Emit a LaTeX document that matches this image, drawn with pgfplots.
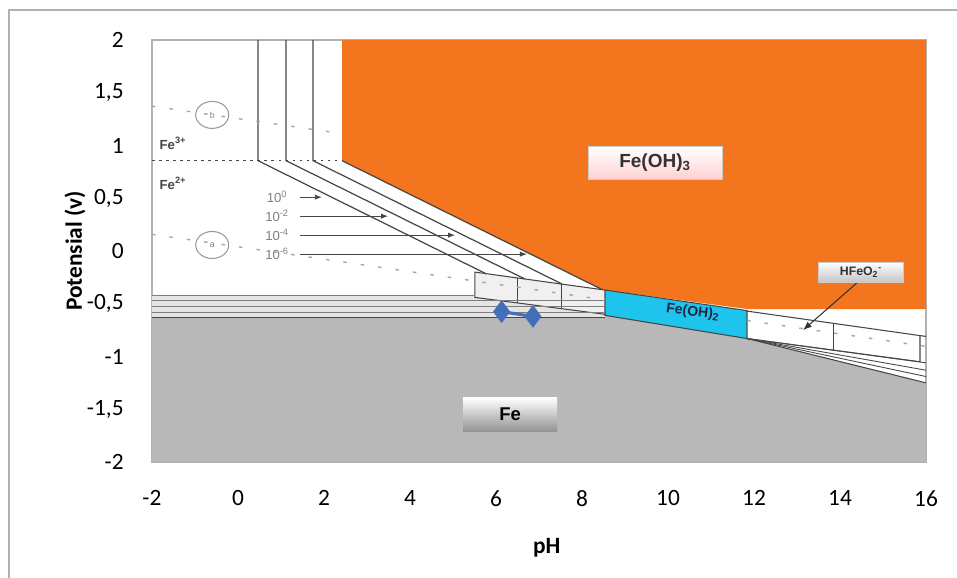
\documentclass[border=0pt]{standalone}
\usepackage{fontspec}
\setmainfont{Carlito}
\newfontfamily\arial{Liberation Sans}
\usepackage{pgfplots}
\pgfplotsset{compat=1.18}
\usetikzlibrary{arrows.meta,shadings}
\definecolor{orng}{RGB}{243,118,30}
\definecolor{cyn}{RGB}{30,196,236}
\definecolor{fegray}{RGB}{184,184,184}
\definecolor{ln}{RGB}{70,70,70}
\definecolor{blu}{RGB}{66,112,184}
\definecolor{navy}{RGB}{30,40,70}
\begin{document}
\begin{tikzpicture}
\useasboundingbox (0,0) rectangle (19.14cm,11.56cm);
\draw[gray!60, line width=0.8pt] (0.18cm,0) -- (0.18cm,11.36cm) -- (19.14cm,11.36cm);
\begin{axis}[
  at={(3.04cm,2.32cm)}, anchor=south west,
  scale only axis, width=15.48cm, height=8.44cm,
  xmin=-2, xmax=16, ymin=-2, ymax=2,
  axis line style={draw=gray!60, line width=0.8pt},
  tick style={draw=none},
  xtick={-2,0,2,4,6,8,10,12,14,16},
  xticklabels={-2,0,2,4,6,8,10,12,14,16},
  ytick={-2,-1.5,-1,-0.5,0,0.5,1,1.5,2},
  yticklabels={-2,{-1,5},-1,{-0,5},0,{0,5},1,{1,5},2},
  ticklabel style={font=\fontsize{13.3}{16}\selectfont, inner sep=0pt},
  yticklabel style={anchor=east, xshift=-0.56cm},
  xticklabel style={anchor=north, yshift=-0.56cm},
  xlabel={\textbf{pH}},
  ylabel={\textbf{Potensial (v)}},
  xlabel style={at={(axis description cs:0.51,-0.204)}, anchor=center, font=\fontsize{13.3}{16}\selectfont},
  ylabel style={at={(axis description cs:-0.0995,0.5)}, anchor=center, rotate=0, font=\fontsize{13.3}{16}\selectfont},
]
% Fe region
\addplot[fill=fegray, draw=none] coordinates {(-2,-2)(-2,-0.63)(8.53,-0.63)(8.53,-0.61)(11.84,-0.83)(16,-1.25)(16,-2)} -- cycle;
% light strip on the left
\addplot[fill=gray!20, draw=none] coordinates {(-2,-0.42)(5.51,-0.42)(5.51,-0.44)(8.53,-0.6)(8.53,-0.63)(-2,-0.63)} -- cycle;
% Fe(OH)3
\addplot[fill=orng, draw=none] coordinates {(2.42,2)(2.42,0.856)(8.47,-0.366)(8.53,-0.37)(11.84,-0.55)(16,-0.55)(16,2)} -- cycle;
% Fe(OH)2
\addplot[fill=cyn, draw=ln, line width=0.6pt] coordinates {(8.53,-0.37)(11.84,-0.565)(11.84,-0.83)(8.53,-0.61)} -- cycle;
% box chain left
\addplot[fill=gray!12, draw=ln, line width=0.6pt] coordinates {(5.51,-0.2)(8.53,-0.37)(8.53,-0.6)(5.51,-0.44)} -- cycle;
\addplot[draw=ln, line width=0.6pt] coordinates {(6.51,-0.256)(6.51,-0.493)};
\addplot[draw=ln, line width=0.6pt] coordinates {(7.53,-0.314)(7.53,-0.547)};
% box chain right
\addplot[fill=white, draw=ln, line width=0.6pt] coordinates {(11.84,-0.57)(15.86,-0.802)(15.86,-1.05)(11.84,-0.83)} -- cycle;
\addplot[draw=ln, line width=0.6pt] coordinates {(13.84,-0.685)(13.84,-0.94)};
\addplot[draw=ln, line width=0.6pt] coordinates {(15.86,-0.802)(16,-0.81)};
\addplot[draw=ln, line width=0.5pt] coordinates {(11.84,-0.83)(16,-1.06)};
\addplot[draw=ln, line width=0.5pt] coordinates {(11.84,-0.83)(16,-1.13)};
\addplot[draw=ln, line width=0.5pt] coordinates {(11.84,-0.83)(16,-1.19)};
\addplot[draw=ln, line width=0.6pt] coordinates {(11.84,-0.83)(16,-1.25)};
% verticals and diagonals
\addplot[draw=ln, line width=0.7pt] coordinates {(0.465,2)(0.465,0.856)(5.77,-0.216)};
\addplot[draw=ln, line width=0.7pt] coordinates {(1.116,2)(1.116,0.856)(6.67,-0.265)};
\addplot[draw=ln, line width=0.7pt] coordinates {(1.744,2)(1.744,0.856)(7.54,-0.314)};
\addplot[draw=ln, line width=0.7pt] coordinates {(2.42,0.856)(8.47,-0.366)};
% horizontal lines left
\addplot[draw=ln!70, line width=0.5pt] coordinates {(-2,-0.42)(5.51,-0.42)};
\addplot[draw=ln!70, line width=0.5pt] coordinates {(-2,-0.47)(8.53,-0.47)};
\addplot[draw=ln!70, line width=0.5pt] coordinates {(-2,-0.53)(8.53,-0.53)};
\addplot[draw=ln!70, line width=0.5pt] coordinates {(-2,-0.58)(8.53,-0.58)};
\addplot[draw=ln, line width=0.7pt] coordinates {(-2,-0.63)(8.53,-0.63)};
% Fe3+/Fe2+ dotted line
\addplot[draw=ln, line width=0.8pt, dash pattern=on 1.5pt off 2.5pt] coordinates {(-2,0.856)(2.42,0.856)};
% water lines
\addplot[draw=gray!70, line width=0.8pt, dash pattern=on 2pt off 8pt] coordinates {(-2,1.373)(2.42,1.112)};
\addplot[draw=gray!70, line width=0.8pt, dash pattern=on 2pt off 8pt] coordinates {(-2,0.158)(8.53,-0.463)};
\addplot[draw=gray!70, line width=0.8pt, dash pattern=on 2pt off 8pt] coordinates {(11.84,-0.659)(16,-0.904)};
% concentration arrows
\addplot[draw=ln, line width=0.5pt, -{Latex[length=4pt]}] coordinates {(1.45,0.51)(1.95,0.51)};
\addplot[draw=ln, line width=0.5pt, -{Latex[length=4pt]}] coordinates {(1.45,0.33)(3.49,0.33)};
\addplot[draw=ln, line width=0.5pt, -{Latex[length=4pt]}] coordinates {(1.45,0.15)(5.05,0.15)};
\addplot[draw=ln, line width=0.5pt, -{Latex[length=4pt]}] coordinates {(1.45,-0.03)(6.72,-0.03)};
% HFeO2- arrow
\addplot[draw=black!80, line width=0.6pt, -{Latex[length=5pt]}] coordinates {(14.4,-0.30)(13.14,-0.75)};
% labels
\node[font=\arial\bfseries\fontsize{7.5}{8}\selectfont, text=ln] at (axis cs:-1.51,1.02) {Fe\textsuperscript{3+}};
\node[font=\arial\bfseries\fontsize{7.5}{8}\selectfont, text=ln] at (axis cs:-1.51,0.64) {Fe\textsuperscript{2+}};
\node[font=\arial\fontsize{7.5}{8}\selectfont, text=gray] at (axis cs:0.91,0.51) {10\textsuperscript{0}};
\node[font=\arial\fontsize{7.5}{8}\selectfont, text=gray] at (axis cs:0.91,0.33) {10\textsuperscript{-2}};
\node[font=\arial\fontsize{7.5}{8}\selectfont, text=gray] at (axis cs:0.91,0.15) {10\textsuperscript{-4}};
\node[font=\arial\fontsize{7.5}{8}\selectfont, text=gray] at (axis cs:0.91,-0.03) {10\textsuperscript{-6}};
\draw[gray!80, line width=0.6pt] (axis cs:-0.6,1.29) ellipse [x radius=0.33cm, y radius=0.27cm];
\draw[gray!80, line width=0.6pt] (axis cs:-0.6,0.057) ellipse [x radius=0.33cm, y radius=0.27cm];
\node[font=\arial\fontsize{5}{6}\selectfont, text=gray] at (axis cs:-0.6,1.29) {b};
\node[font=\arial\fontsize{5}{6}\selectfont, text=gray] at (axis cs:-0.6,0.057) {a};
\node[draw=gray!40, top color=white, bottom color=red!18, minimum width=2.68cm, minimum height=0.66cm, inner sep=0pt, font=\arial\bfseries\fontsize{10.8}{12}\selectfont, text=black!80] at (axis cs:9.7,0.834) {Fe(OH)\textsubscript{3}};
\node[draw=gray!40, top color=white, bottom color=gray!45, minimum width=1.7cm, minimum height=0.4cm, inner sep=0pt, font=\arial\bfseries\fontsize{7}{8}\selectfont, text=black!80] at (axis cs:14.49,-0.2) {HFeO\textsubscript{2}\textsuperscript{-}};
\node[top color=white, bottom color=gray!85, minimum width=1.88cm, minimum height=0.68cm, inner sep=0pt, font=\arial\bfseries\fontsize{10.5}{12}\selectfont, text=black] at (axis cs:6.33,-1.55) {Fe};
\node[rotate=-7, font=\arial\bfseries\fontsize{8}{9}\selectfont, text=navy] at (axis cs:10.58,-0.58) {Fe(OH)\textsubscript{2}};
% data series
\addplot[color=blu, line width=1.8pt, mark=diamond*, mark size=5pt, mark options={fill=blu, draw=blu}] coordinates {(6.13,-0.575)(6.86,-0.62)};
\end{axis}
\end{tikzpicture}
\end{document}
